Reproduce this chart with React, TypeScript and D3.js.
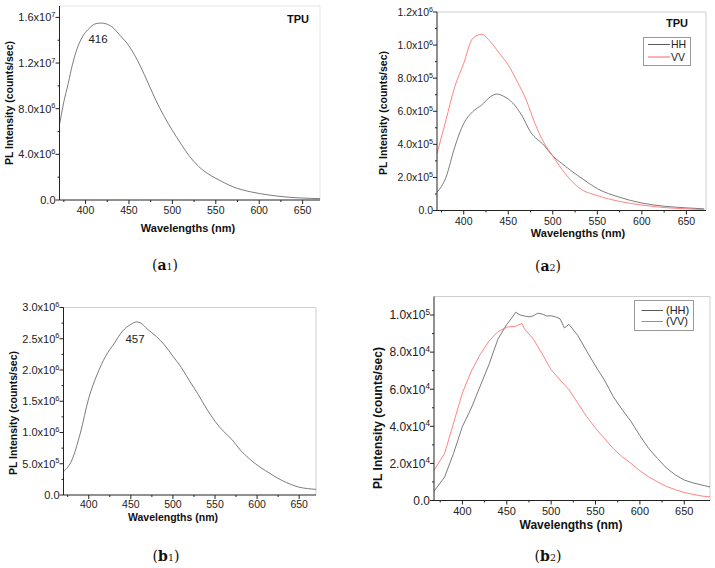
import React from "react";
import * as d3 from "d3";

// ---------- DATA ----------
const a1X = [370, 375, 380, 385, 390, 395, 400, 405, 410, 416, 420, 425, 430, 440, 450, 460, 470, 480, 490, 500, 510, 520, 530, 540, 550, 560, 570, 580, 590, 600, 610, 620, 630, 640, 650, 660, 670];
const a1Y = [6.6e6, 8.6e6, 10.2e6, 11.9e6, 13.2e6, 14.1e6, 14.7e6, 15.1e6, 15.4e6, 15.5e6, 15.5e6, 15.4e6, 15.2e6, 14.4e6, 13.5e6, 12.2e6, 10.6e6, 8.9e6, 7.4e6, 6.1e6, 4.9e6, 3.8e6, 2.95e6, 2.35e6, 1.9e6, 1.5e6, 1.15e6, 0.9e6, 0.72e6, 0.57e6, 0.45e6, 0.35e6, 0.27e6, 0.21e6, 0.17e6, 0.14e6, 0.12e6];

const a2X = [370, 380, 390, 400, 410, 420, 430, 437, 445, 455, 465, 475, 490, 500, 510, 520, 535, 550, 575, 600, 625, 650, 670];
const a2HH = [1.1e5, 2.0e5, 3.85e5, 5.26e5, 5.97e5, 6.37e5, 6.88e5, 7.04e5, 6.9e5, 6.5e5, 5.77e5, 4.75e5, 3.95e5, 3.3e5, 2.85e5, 2.43e5, 1.85e5, 1.32e5, 0.8e5, 0.45e5, 0.26e5, 0.16e5, 0.1e5];
const a2VVX = [370, 380, 390, 400, 410, 420, 430, 440, 450, 460, 470, 480, 490, 500, 510, 520, 530, 550, 575, 600, 625, 650, 670];
const a2VV = [3.44e5, 5.46e5, 7.49e5, 8.9e5, 10.4e5, 10.65e5, 10.2e5, 9.5e5, 8.8e5, 7.8e5, 6.7e5, 5.26e5, 4.1e5, 3.3e5, 2.5e5, 1.85e5, 1.35e5, 0.9e5, 0.55e5, 0.33e5, 0.18e5, 0.1e5, 0.05e5];

const b1X = [370, 380, 390, 400, 410, 420, 430, 440, 450, 457, 462, 470, 480, 490, 500, 510, 520, 530, 540, 550, 560, 570, 580, 590, 600, 610, 620, 630, 640, 650, 660, 670];
const b1Y = [3.75e5, 5.6e5, 9.9e5, 15.5e5, 19.3e5, 22.2e5, 24.2e5, 26.2e5, 27.3e5, 27.7e5, 27.5e5, 26.5e5, 25.4e5, 24.0e5, 22.2e5, 20.4e5, 18.2e5, 16.1e5, 13.8e5, 11.8e5, 10.2e5, 8.9e5, 7.2e5, 5.9e5, 4.8e5, 3.9e5, 3.05e5, 2.3e5, 1.7e5, 1.25e5, 1.02e5, 0.9e5];

const b2X = [368, 380, 390, 400, 410, 420, 430, 440, 450, 455, 460, 465, 470, 475, 480, 485, 490, 495, 500, 505, 510, 515, 520, 525, 530, 540, 550, 560, 570, 580, 590, 600, 610, 620, 630, 640, 650, 660, 670, 679];
const b2HH = [0.5e4, 1.27e4, 2.54e4, 3.99e4, 4.98e4, 6.16e4, 7.34e4, 8.7e4, 9.5e4, 9.8e4, 10.15e4, 10.0e4, 9.95e4, 9.9e4, 9.96e4, 10.1e4, 10.05e4, 9.95e4, 9.96e4, 9.9e4, 9.8e4, 9.3e4, 9.5e4, 9.2e4, 8.9e4, 8.06e4, 7.25e4, 6.5e4, 5.6e4, 4.9e4, 4.26e4, 3.5e4, 2.8e4, 2.26e4, 1.75e4, 1.38e4, 1.1e4, 0.95e4, 0.83e4, 0.73e4];
const b2VVX = [368, 380, 390, 400, 410, 420, 430, 440, 450, 460, 467, 470, 480, 490, 500, 510, 520, 530, 540, 550, 560, 570, 580, 590, 600, 610, 620, 630, 640, 650, 660, 670, 679];
const b2VV = [1.63e4, 2.54e4, 4.17e4, 5.8e4, 6.97e4, 7.88e4, 8.6e4, 9.1e4, 9.35e4, 9.4e4, 9.55e4, 9.25e4, 8.7e4, 7.9e4, 7.05e4, 6.5e4, 5.98e4, 5.25e4, 4.53e4, 3.9e4, 3.35e4, 2.8e4, 2.36e4, 2.0e4, 1.6e4, 1.27e4, 1.0e4, 0.76e4, 0.58e4, 0.43e4, 0.33e4, 0.24e4, 0.2e4];

const xTicks = [400, 450, 500, 550, 600, 650];
const xMinor = [375, 425, 475, 525, 575, 625];
const a1YTicks = [0, 4e6, 8e6, 1.2e7, 1.6e7];
const a1YMinor = [2e6, 6e6, 1e7, 1.4e7];
const a2YTicks = [0, 2e5, 4e5, 6e5, 8e5, 1e6, 1.2e6];
const a2YMinor = [1e5, 3e5, 5e5, 7e5, 9e5, 1.1e6];
const b1YTicks = [0, 5e5, 1e6, 1.5e6, 2e6, 2.5e6, 3e6];
const b1YMinor = [2.5e5, 7.5e5, 1.25e6, 1.75e6, 2.25e6, 2.75e6];
const b2YTicks = [0, 2e4, 4e4, 6e4, 8e4, 1e5];
const b2YMinor = [1e4, 3e4, 5e4, 7e4, 9e4];

const BLACK = "#5a5a5a";
const RED = "#ff6464";
const FONT = "Liberation Sans, Arial, sans-serif";

function sciLabel(v: number) {
  if (v === 0) return { m: "0.0", e: "" };
  const e = Math.floor(Math.log10(v) + 1e-9);
  const m = (v / Math.pow(10, e)).toFixed(1);
  return { m: m + "x10", e: String(e) };
}

type Series = { xs: number[]; ys: number[]; color: string };
type PanelProps = {
  left: number; right: number; top: number; bottom: number;
  xDomain: [number, number]; yDomain: [number, number];
  yTicks: number[]; yMinor: number[];
  series: Series[];
  tickFont: number; yTickFont: number; titleFont: number; yTitleFont: number;
  xTickBase: number; xTitle: { x: number; y: number };
  yTitle: { x: number; y: number };
  frameColor: string;
  smooth: boolean;
};

function Panel(p: PanelProps) {
  const x = d3.scaleLinear().domain(p.xDomain).range([p.left, p.right]);
  const y = d3.scaleLinear().domain(p.yDomain).range([p.bottom, p.top]);
  const line = d3.line<[number, number]>()
    .x((d) => x(d[0]))
    .y((d) => y(d[1]))
    .curve(p.smooth ? d3.curveMonotoneX : d3.curveLinear);
  return (
    <g>
      <line x1={p.left} x2={p.right} y1={p.top} y2={p.top} stroke={p.frameColor} strokeWidth={1} />
      <line x1={p.right} x2={p.right} y1={p.top} y2={p.bottom} stroke={p.frameColor} strokeWidth={1} />
      {p.series.map((s, i) => (
        <path key={i} d={line(s.xs.map((xv, j) => [xv, s.ys[j]] as [number, number])) || ""}
          fill="none" stroke={s.color} strokeWidth={0.8} />
      ))}
      <line x1={p.left} x2={p.right} y1={p.bottom} y2={p.bottom} stroke="#222" strokeWidth={1} />
      <line x1={p.left} x2={p.left} y1={p.top} y2={p.bottom} stroke="#222" strokeWidth={1} />
      {xTicks.map((t) => (
        <g key={"xt" + t}>
          <line x1={x(t)} x2={x(t)} y1={p.bottom} y2={p.bottom + 4} stroke="#222" />
          <text x={x(t)} y={p.xTickBase} textAnchor="middle" fontSize={p.tickFont} fontFamily={FONT} fill="#222">{t}</text>
        </g>
      ))}
      {xMinor.map((t) => (
        <line key={"xm" + t} x1={x(t)} x2={x(t)} y1={p.bottom} y2={p.bottom + 2} stroke="#222" />
      ))}
      {p.yTicks.map((t) => {
        const l = sciLabel(t);
        return (
          <g key={"yt" + t}>
            <line x1={p.left - 4} x2={p.left} y1={y(t)} y2={y(t)} stroke="#222" />
            <text x={p.left - 4} y={y(t) + p.yTickFont * 0.36} textAnchor="end" fontSize={p.yTickFont} fontFamily={FONT} fill="#222">
              {l.m}
              {l.e && <tspan dy={-p.yTickFont * 0.4} fontSize={p.yTickFont * 0.68}>{l.e}</tspan>}
            </text>
          </g>
        );
      })}
      {p.yMinor.map((t) => (
        <line key={"ym" + t} x1={p.left - 2} x2={p.left} y1={y(t)} y2={y(t)} stroke="#222" />
      ))}
      <text x={p.xTitle.x} y={p.xTitle.y} textAnchor="middle" fontSize={p.titleFont} fontWeight="bold" fontFamily={FONT} fill="#111">Wavelengths (nm)</text>
      <text transform={`translate(${p.yTitle.x},${p.yTitle.y}) rotate(-90)`} textAnchor="middle" fontSize={p.yTitleFont} fontWeight="bold" fontFamily={FONT} fill="#111">PL Intensity (counts/sec)</text>
    </g>
  );
}

function Caption({ x, y, letter, num }: { x: number; y: number; letter: string; num: string }) {
  return (
    <text x={x} y={y} textAnchor="middle" fontFamily="DejaVu Serif, Liberation Serif, serif" fontSize={14} fill="#111">
      (<tspan fontWeight="bold">{letter}</tspan><tspan fontSize={9.5}>{num}</tspan>)
    </text>
  );
}

function Legend({ x, y, w, h, labels, rows, lineX1, lineX2, textX, font }: any) {
  return (
    <g>
      <rect x={x} y={y} width={w} height={h} fill="white" stroke="#999" strokeWidth={1} />
      {labels.map((lb: string, i: number) => (
        <g key={lb}>
          <line x1={lineX1} x2={lineX2} y1={rows[i]} y2={rows[i]} stroke={i === 0 ? BLACK : RED} strokeWidth={1} />
          <text x={textX} y={rows[i] + font * 0.36} fontSize={font} fontFamily={FONT} fill="#222">{lb}</text>
        </g>
      ))}
    </g>
  );
}

export default function App() {
  return (
    <svg width={715} height={568} style={{ position: "absolute", left: 0, top: 0, background: "white" }}>
      <rect x={0} y={0} width={715} height={568} fill="white" />
      {/* a1 */}
      <Panel left={59.5} right={320} top={6} bottom={200} xDomain={[370, 670]} yDomain={[0, 1.7e7]}
        yTicks={a1YTicks} yMinor={a1YMinor}
        series={[{ xs: a1X, ys: a1Y, color: BLACK }]}
        tickFont={10.5} yTickFont={11} titleFont={11} yTitleFont={10.5}
        xTickBase={214} xTitle={{ x: 188, y: 232 }} yTitle={{ x: 13, y: 103 }} frameColor="#e6e6e6" smooth={true} />
      <text x={298} y={23} textAnchor="middle" fontSize={11} fontWeight="bold" fontFamily={FONT} fill="#111">TPU</text>
      <text x={98} y={43} textAnchor="middle" fontSize={11.5} fontFamily={FONT} fill="#222">416</text>
      <Caption x={165} y={270} letter="a" num="1" />

      {/* a2 */}
      <Panel left={437} right={706} top={12} bottom={210.5} xDomain={[370, 672]} yDomain={[0, 1.2e6]}
        yTicks={a2YTicks} yMinor={a2YMinor}
        series={[{ xs: a2X, ys: a2HH, color: BLACK }, { xs: a2VVX, ys: a2VV, color: RED }]}
        tickFont={10.5} yTickFont={10.5} titleFont={11} yTitleFont={10.5}
        xTickBase={225} xTitle={{ x: 578, y: 237 }} yTitle={{ x: 387, y: 113 }} frameColor="#d0d0d0" smooth={true} />
      <text x={677} y={27} textAnchor="middle" fontSize={11} fontWeight="bold" fontFamily={FONT} fill="#111">TPU</text>
      <Legend x={643.5} y={37.5} w={47} h={28} labels={["HH", "VV"]} rows={[44.5, 57]} lineX1={648} lineX2={670} textX={671} font={10.5} />
      <Caption x={548} y={271} letter="a" num="2" />

      {/* b1 */}
      <Panel left={63.5} right={316} top={307.5} bottom={495} xDomain={[370, 670]} yDomain={[0, 3e6]}
        yTicks={b1YTicks} yMinor={b1YMinor}
        series={[{ xs: b1X, ys: b1Y, color: BLACK }]}
        tickFont={10.5} yTickFont={11} titleFont={10.5} yTitleFont={10.5}
        xTickBase={508} xTitle={{ x: 173, y: 521 }} yTitle={{ x: 17, y: 413 }} frameColor="#cfcfcf" smooth={true} />
      <text x={135} y={343} textAnchor="middle" fontSize={11.5} fontFamily={FONT} fill="#222">457</text>
      <Caption x={166} y={561} letter="b" num="1" />

      {/* b2 */}
      <Panel left={434} right={710} top={296.5} bottom={500.5} xDomain={[368, 679]} yDomain={[0, 1.1e5]}
        yTicks={b2YTicks} yMinor={b2YMinor}
        series={[{ xs: b2X, ys: b2HH, color: BLACK }, { xs: b2VVX, ys: b2VV, color: RED }]}
        tickFont={11} yTickFont={12} titleFont={12} yTitleFont={12}
        xTickBase={515} xTitle={{ x: 571, y: 529 }} yTitle={{ x: 382, y: 418 }} frameColor="#cfcfcf" smooth={false} />
      <Legend x={634.5} y={300.5} w={59} h={30} labels={["(HH)", "(VV)"]} rows={[310.5, 321.5]} lineX1={641.5} lineX2={663} textX={666} font={11} />
      <Caption x={548} y={561} letter="b" num="2" />
    </svg>
  );
}
